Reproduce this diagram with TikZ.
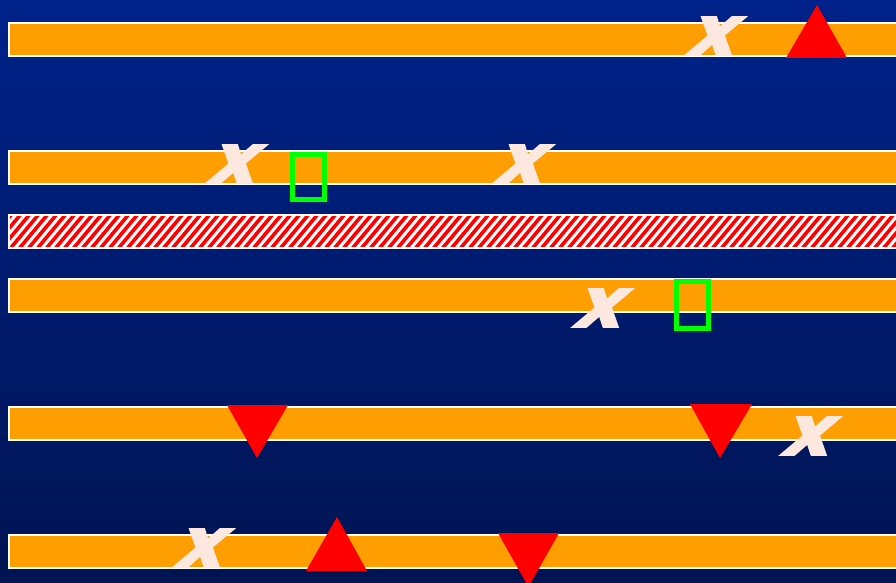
\documentclass[tikz,border=0pt]{standalone}
\usepackage{fontspec}
\newfontfamily\xfont[FakeBold=3.5]{DejaVu Sans Bold}
\definecolor{bgtop}{RGB}{0,34,138}
\definecolor{bgbot}{RGB}{0,20,82}
\definecolor{barorange}{RGB}{255,158,0}
\definecolor{xcol}{RGB}{253,232,224}
\definecolor{tri}{RGB}{255,0,0}
\definecolor{grn}{RGB}{0,255,0}
\tikzset{
  bar/.style={draw=white, line width=2pt, fill=barorange},
  xmark/.style={text=xcol, inner sep=0pt, font=\xfont\fontsize{68}{68}\selectfont, xslant=0.42, xscale=1.05},
  tri/.style={fill=tri, draw=none},
  gbox/.style={draw=grn, line width=4.5pt},
}
\begin{document}
\begin{tikzpicture}[x=1pt,y=-1pt]
\shade[top color=bgtop, bottom color=bgbot] (0,0) rectangle (896,583);
\useasboundingbox (0,0) rectangle (896,583);
% bars
\foreach \t in {23,151,279,407,535}{
  \draw[bar] (9,\t) rectangle (900,\t+33);
}
% hatched bar
\fill[white] (9,215) rectangle (900,248);
\begin{scope}
  \clip (10,216) rectangle (896,247);
  \foreach \i in {-4,...,100}{
    \draw[draw=tri, line width=3.6pt] (\i*9,250) -- (\i*9+30,214);
  }
\end{scope}
\draw[white, line width=2pt] (9,215) rectangle (900,248);
% x marks
\node[xmark] (x1) at (716,36) {x};
\node[xmark] (x2) at (237,164) {x};
\node[xmark] (x3) at (524,164) {x};
\node[xmark] (x4) at (603,308) {x};
\node[xmark] (x5) at (811,436) {x};
\node[xmark] (x6) at (204,548) {x};
% triangles up
\fill[tri] (786,58) -- (817,5) -- (847,58) -- cycle;
\fill[tri] (306,571) -- (337,517) -- (367,571) -- cycle;
% triangles down
\fill[tri] (227,405) -- (288,405) -- (257,458) -- cycle;
\fill[tri] (690,404) -- (752,404) -- (720,458) -- cycle;
\fill[tri] (498,533) -- (559,533) -- (528.5,587) -- cycle;
% green boxes
\draw[gbox] (292.3,154.3) rectangle (324.7,199.7);
\draw[gbox] (676.3,281.3) rectangle (708.7,328.7);
\end{tikzpicture}
\end{document}
